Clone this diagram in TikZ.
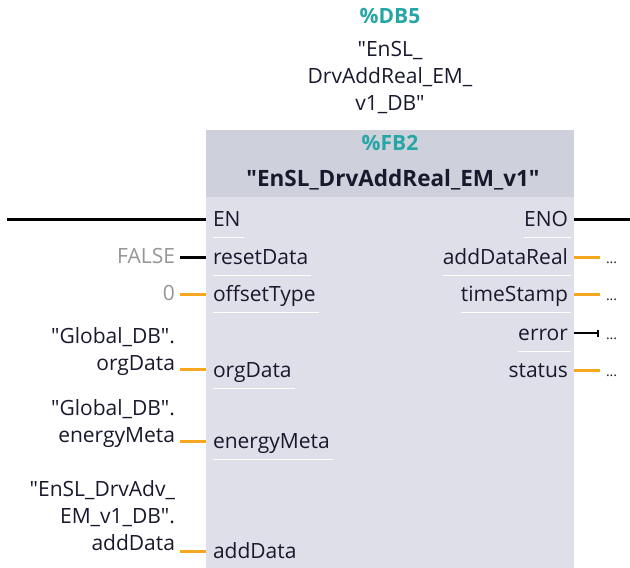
\documentclass[tikz,border=0pt]{standalone}
\usepackage{fontspec}
\setmainfont{Open Sans}[Ligatures=TeXOff]
\usetikzlibrary{arrows.meta}
\definecolor{hdrbg}{RGB}{206,208,219}
\definecolor{bodybg}{RGB}{222,223,232}
\definecolor{sieteal}{RGB}{38,166,166}
\definecolor{wireor}{RGB}{245,168,30}
\definecolor{pintext}{RGB}{25,25,45}
\definecolor{consttext}{RGB}{150,150,150}
\begin{document}
\begin{tikzpicture}[x=1pt,y=-1pt,
  every node/.style={inner sep=0pt, outer sep=0pt, text=pintext,
    font=\fontsize{21}{27}\selectfont},
  tealtxt/.style={anchor=base, text=sieteal, font=\fontsize{21}{27}\selectfont\bfseries},
  titletxt/.style={anchor=base, font=\fontsize{22.5}{27}\selectfont\bfseries},
  dbtxt/.style={anchor=base, align=center},
  pinleft/.style={anchor=base west},
  pinright/.style={anchor=base east},
  extlabel/.style={anchor=base east, align=right},
  constlabel/.style={anchor=base east, text=consttext},
  dotlabel/.style={anchor=base west, font=\fontsize{14}{14}\selectfont},
  blackwire/.style={draw=black, line width=3pt},
  orwire/.style={draw=wireor, line width=3pt},
  errwire/.style={draw=black, line width=1.8pt, -{Bar[width=7pt,line width=1.8pt]}},
  sepline/.style={draw=white, line width=0.9pt},
]
\useasboundingbox (0,0) rectangle (630,568);
\fill[white] (0,0) rectangle (630,568);

% block
\node[fill=bodybg, minimum width=368pt, minimum height=438pt, anchor=north west] (block) at (206,130) {};
\node[fill=hdrbg, minimum width=368pt, minimum height=67pt, anchor=north west] (header) at (206,130) {};

% instance DB
\node[tealtxt] (db) at (390,23) {\%DB5};
\node[dbtxt] (dbname) at (390,110) {"EnSL\_\\DrvAddReal\_EM\_\\v1\_DB"};

% header
\node[tealtxt] (fb) at (390,150) {\%FB2};
\node[titletxt] (title) at (393,186) {"EnSL\_DrvAddReal\_EM\_v1"};

% input pins
\node[pinleft] (pEN) at (213,226) {EN};
\node[pinleft] (pReset) at (213,264) {resetData};
\node[pinleft] (pOffset) at (213,301) {offsetType};
\node[pinleft] (pOrg) at (213,377) {orgData};
\node[pinleft] (pMeta) at (213,448) {energyMeta};
\node[pinleft] (pAdd) at (213,558) {addData};

% output pins
\node[pinright] (pENO) at (568,226) {ENO};
\node[pinright] (pReal) at (568,264) {addDataReal};
\node[pinright] (pTime) at (568,301) {timeStamp};
\node[pinright] (pErr) at (568,340) {error};
\node[pinright] (pStat) at (568,377) {status};

% separators
\foreach \n in {pEN,pReset,pOffset,pOrg,pMeta,pENO,pReal,pTime,pErr}
  \draw[sepline] ([yshift=-11pt]\n.base west) -- ([yshift=-11pt,xshift=3pt]\n.base east);

% pin coordinates
\coordinate (cEN) at (206,219);
\coordinate (cReset) at (206,257);
\coordinate (cOffset) at (206,294);
\coordinate (cOrg) at (206,369);
\coordinate (cMeta) at (206,441);
\coordinate (cAdd) at (206,551);
\coordinate (cENO) at (574,219);
\coordinate (cReal) at (574,257);
\coordinate (cTime) at (574,294);
\coordinate (cErr) at (574,333);
\coordinate (cStat) at (574,370);

% external ends
\coordinate (eEN) at (7,219);
\coordinate (eReset) at (180,257);
\coordinate (eOffset) at (180,294);
\coordinate (eOrg) at (180,369);
\coordinate (eMeta) at (180,441);
\coordinate (eAdd) at (180,551);
\coordinate (eENO) at (630,219);
\coordinate (eReal) at (600,257);
\coordinate (eTime) at (600,294);
\coordinate (eErr) at (599,333);
\coordinate (eStat) at (600,370);

% external labels
\node[constlabel] (vReset) at (175,263) {FALSE};
\node[constlabel] (vOffset) at (175,300) {0};
\node[extlabel] (vOrg) at (175,370) {"Global\_DB".\\orgData};
\node[extlabel] (vMeta) at (175,442) {"Global\_DB".\\energyMeta};
\node[extlabel] (vAdd) at (175,550) {"EnSL\_DrvAdv\_\\EM\_v1\_DB".\\addData};

\node[dotlabel] (dReal) at (606,263) {...};
\node[dotlabel] (dTime) at (606,300) {...};
\node[dotlabel] (dErr) at (606,339) {...};
\node[dotlabel] (dStat) at (606,376) {...};

% wires
\draw[blackwire] (eEN) -- (cEN);
\draw[blackwire] (cENO) -- (eENO);
\draw[blackwire] (eReset) -- (cReset);
\draw[orwire] (eOffset) -- (cOffset);
\draw[orwire] (eOrg) -- (cOrg);
\draw[orwire] (eMeta) -- (cMeta);
\draw[orwire] (eAdd) -- (cAdd);
\draw[orwire] (cReal) -- (eReal);
\draw[orwire] (cTime) -- (eTime);
\draw[errwire] (cErr) -- (eErr);
\draw[orwire] (cStat) -- (eStat);
\end{tikzpicture}
\end{document}
